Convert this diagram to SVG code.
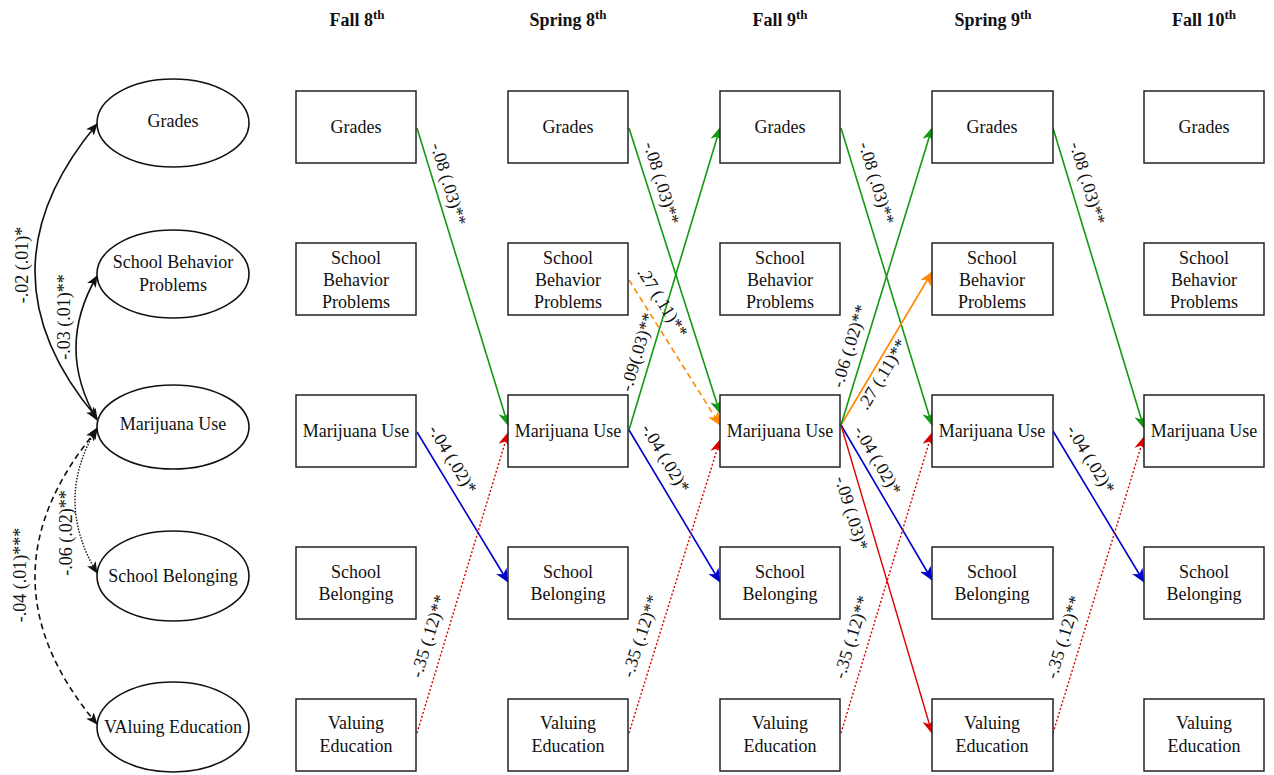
<svg xmlns="http://www.w3.org/2000/svg" width="1274" height="775" viewBox="0 0 1274 775" font-family="Liberation Serif, Times New Roman, serif">
<style>
text{font-family:"Liberation Serif","Times New Roman",serif;fill:#111;}
.t{font-size:18px;text-anchor:middle;}
.h{font-size:18px;font-weight:bold;text-anchor:middle;}
.l{font-size:18px;text-anchor:middle;}
.box{fill:#fff;stroke:#222;stroke-width:1.5;}
.ell{fill:#fff;stroke:#111;stroke-width:1.6;}
.g{stroke:#119911;stroke-width:1.6;fill:none;marker-end:url(#mg);}
.b{stroke:#0000cc;stroke-width:1.6;fill:none;marker-end:url(#mb);}
.r{stroke:#dd0000;stroke-width:1.4;fill:none;marker-end:url(#mr);}
.rd{stroke:#dd0000;stroke-width:1.4;fill:none;stroke-dasharray:2,2;marker-end:url(#mr);}
.o{stroke:#ff8800;stroke-width:1.6;fill:none;marker-end:url(#mo);}
.od{stroke:#ff8800;stroke-width:1.6;fill:none;stroke-dasharray:6,4;marker-end:url(#mo);}
.k{stroke:#111;stroke-width:1.6;fill:none;marker-start:url(#mk);marker-end:url(#mk);}
.kdot{stroke:#111;stroke-width:1.4;fill:none;stroke-dasharray:1.5,1.5;marker-start:url(#mk);marker-end:url(#mk);}
.kdash{stroke:#111;stroke-width:1.6;fill:none;stroke-dasharray:6,4;marker-start:url(#mk);marker-end:url(#mk);}
</style>
<defs>
<marker id="mg" markerUnits="userSpaceOnUse" markerWidth="14" markerHeight="12" refX="13" refY="6" orient="auto"><path d="M0,0 L14,6 L0,12 L4,6 z" fill="#119911"/></marker>
<marker id="mb" markerUnits="userSpaceOnUse" markerWidth="14" markerHeight="12" refX="13" refY="6" orient="auto"><path d="M0,0 L14,6 L0,12 L4,6 z" fill="#0000cc"/></marker>
<marker id="mr" markerUnits="userSpaceOnUse" markerWidth="14" markerHeight="12" refX="13" refY="6" orient="auto"><path d="M0,0 L14,6 L0,12 L4,6 z" fill="#dd0000"/></marker>
<marker id="mo" markerUnits="userSpaceOnUse" markerWidth="14" markerHeight="12" refX="13" refY="6" orient="auto"><path d="M0,0 L14,6 L0,12 L4,6 z" fill="#ff8800"/></marker>
<marker id="mk" markerUnits="userSpaceOnUse" markerWidth="12" markerHeight="10" refX="11" refY="5" orient="auto-start-reverse"><path d="M0,0 L12,5 L0,10 L3,5 z" fill="#111"/></marker>
</defs>

<g id="headers">
<text class="h" x="357" y="26">Fall 8<tspan dy="-7" font-size="13">th</tspan></text>
<text class="h" x="568" y="26">Spring 8<tspan dy="-7" font-size="13">th</tspan></text>
<text class="h" x="780" y="26">Fall 9<tspan dy="-7" font-size="13">th</tspan></text>
<text class="h" x="993" y="26">Spring 9<tspan dy="-7" font-size="13">th</tspan></text>
<text class="h" x="1204" y="26">Fall 10<tspan dy="-7" font-size="13">th</tspan></text>
</g>

<g id="connectors">
<path class="k" d="M97,418 Q-27,272 97,124"/>
<path class="k" d="M97,420 Q55,348 97,276"/>
<path class="kdot" d="M97,428 Q53,500 97,573"/>
<path class="kdash" d="M97,430 Q-27,577 97,724"/>
<line class="g" x1="417" y1="128" x2="508" y2="425"/>
<line class="g" x1="629" y1="128" x2="720" y2="413"/>
<line class="g" x1="841" y1="128" x2="932" y2="425"/>
<line class="g" x1="1053" y1="128" x2="1144" y2="428"/>
<line class="b" x1="417" y1="432" x2="508" y2="582"/>
<line class="b" x1="629" y1="430" x2="720" y2="582"/>
<line class="b" x1="841" y1="425" x2="932" y2="580"/>
<line class="b" x1="1053" y1="431" x2="1144" y2="582"/>
<line class="rd" x1="417" y1="733" x2="508" y2="433"/>
<line class="rd" x1="629" y1="733" x2="720" y2="440"/>
<line class="rd" x1="841" y1="733" x2="932" y2="433"/>
<line class="rd" x1="1053" y1="733" x2="1144" y2="437"/>
<line class="od" x1="629" y1="280" x2="720" y2="425"/>
<line class="o" x1="841" y1="425" x2="932" y2="272"/>
<line class="g" x1="629" y1="430" x2="720" y2="128"/>
<line class="g" x1="841" y1="425" x2="932" y2="128"/>
<line class="r" x1="841" y1="425" x2="932" y2="733"/>
</g>

<g id="labels">
<text class="l" transform="translate(22,265) rotate(-90)" dy="0.35em">-.02 (.01)*</text>
<text class="l" transform="translate(64,317) rotate(-90)" dy="0.35em">-.03 (.01)**</text>
<text class="l" transform="translate(66,533) rotate(-90)" dy="0.35em">-.06 (.02)**</text>
<text class="l" transform="translate(20,575) rotate(-90)" dy="0.35em">-.04 (.01)***</text>

<text class="l" transform="translate(449,184) rotate(73)" dy="0.35em">-.08 (.03)**</text>
<text class="l" transform="translate(662,183) rotate(73)" dy="0.35em">-.08 (.03)**</text>
<text class="l" transform="translate(877,183) rotate(73)" dy="0.35em">-.08 (.03)**</text>
<text class="l" transform="translate(1088,183) rotate(73)" dy="0.35em">-.08 (.03)**</text>

<text class="l" transform="translate(453,459) rotate(59)" dy="0.35em">-.04 (.02)*</text>
<text class="l" transform="translate(666,458) rotate(59)" dy="0.35em">-.04 (.02)*</text>
<text class="l" transform="translate(878,460) rotate(60)" dy="0.35em">-.04 (.02)*</text>
<text class="l" transform="translate(1091,459) rotate(59)" dy="0.35em">-.04 (.02)*</text>

<text class="l" transform="translate(428,636) rotate(-73)" dy="0.35em">-.35 (.12)**</text>
<text class="l" transform="translate(640,636) rotate(-72)" dy="0.35em">-.35 (.12)**</text>
<text class="l" transform="translate(851,637) rotate(-73)" dy="0.35em">-.35 (.12)**</text>
<text class="l" transform="translate(1063,637) rotate(-73)" dy="0.35em">-.35 (.12)**</text>

<text class="l" transform="translate(663,302) rotate(58)" dy="0.35em">.27 (.11)**</text>
<text class="l" transform="translate(637,352) rotate(-73)" dy="0.35em">-.09(.03)**</text>
<text class="l" transform="translate(849,346) rotate(-73)" dy="0.35em">-.06 (.02)**</text>
<text class="l" transform="translate(882,374) rotate(-59)" dy="0.35em">.27 (.11)**</text>
<text class="l" transform="translate(852,513) rotate(73)" dy="0.35em">-.09 (.03)*</text>
</g>

<g id="e-grades"><ellipse class="ell" cx="173" cy="123" rx="76" ry="44"/><text class="t" x="173" y="127">Grades</text></g>
<g id="e-sbp"><ellipse class="ell" cx="173" cy="274" rx="76" ry="44"/><text class="t" x="173" y="268">School Behavior</text><text class="t" x="173" y="291">Problems</text></g>
<g id="e-mu"><ellipse class="ell" cx="173" cy="427" rx="76" ry="42"/><text class="t" x="173" y="430">Marijuana Use</text></g>
<g id="e-sb"><ellipse class="ell" cx="173" cy="576" rx="76" ry="45"/><text class="t" x="173" y="582">School Belonging</text></g>
<g id="e-ve"><ellipse class="ell" cx="173" cy="727" rx="76" ry="45"/><text class="t" x="173" y="733">VAluing Education</text></g>

<g id="c1-grades"><rect class="box" x="296" y="91" width="120" height="72"/><text class="t" x="356" y="133">Grades</text></g>
<g id="c1-sbp"><rect class="box" x="296" y="243" width="120" height="72"/><text class="t" x="356" y="264">School</text><text class="t" x="356" y="286">Behavior</text><text class="t" x="356" y="308">Problems</text></g>
<g id="c1-mu"><rect class="box" x="296" y="395" width="120" height="72"/><text class="t" x="356" y="437">Marijuana Use</text></g>
<g id="c1-sb"><rect class="box" x="296" y="547" width="120" height="72"/><text class="t" x="356" y="578">School</text><text class="t" x="356" y="600">Belonging</text></g>
<g id="c1-ve"><rect class="box" x="296" y="699" width="120" height="72"/><text class="t" x="356" y="729">Valuing</text><text class="t" x="356" y="752">Education</text></g>

<g id="c2-grades"><rect class="box" x="508" y="91" width="120" height="72"/><text class="t" x="568" y="133">Grades</text></g>
<g id="c2-sbp"><rect class="box" x="508" y="243" width="120" height="72"/><text class="t" x="568" y="264">School</text><text class="t" x="568" y="286">Behavior</text><text class="t" x="568" y="308">Problems</text></g>
<g id="c2-mu"><rect class="box" x="508" y="395" width="120" height="72"/><text class="t" x="568" y="437">Marijuana Use</text></g>
<g id="c2-sb"><rect class="box" x="508" y="547" width="120" height="72"/><text class="t" x="568" y="578">School</text><text class="t" x="568" y="600">Belonging</text></g>
<g id="c2-ve"><rect class="box" x="508" y="699" width="120" height="72"/><text class="t" x="568" y="729">Valuing</text><text class="t" x="568" y="752">Education</text></g>

<g id="c3-grades"><rect class="box" x="720" y="91" width="120" height="72"/><text class="t" x="780" y="133">Grades</text></g>
<g id="c3-sbp"><rect class="box" x="720" y="243" width="120" height="72"/><text class="t" x="780" y="264">School</text><text class="t" x="780" y="286">Behavior</text><text class="t" x="780" y="308">Problems</text></g>
<g id="c3-mu"><rect class="box" x="720" y="395" width="120" height="72"/><text class="t" x="780" y="437">Marijuana Use</text></g>
<g id="c3-sb"><rect class="box" x="720" y="547" width="120" height="72"/><text class="t" x="780" y="578">School</text><text class="t" x="780" y="600">Belonging</text></g>
<g id="c3-ve"><rect class="box" x="720" y="699" width="120" height="72"/><text class="t" x="780" y="729">Valuing</text><text class="t" x="780" y="752">Education</text></g>

<g id="c4-grades"><rect class="box" x="932" y="91" width="121" height="72"/><text class="t" x="992" y="133">Grades</text></g>
<g id="c4-sbp"><rect class="box" x="932" y="243" width="121" height="72"/><text class="t" x="992" y="264">School</text><text class="t" x="992" y="286">Behavior</text><text class="t" x="992" y="308">Problems</text></g>
<g id="c4-mu"><rect class="box" x="932" y="395" width="121" height="72"/><text class="t" x="992" y="437">Marijuana Use</text></g>
<g id="c4-sb"><rect class="box" x="932" y="547" width="121" height="72"/><text class="t" x="992" y="578">School</text><text class="t" x="992" y="600">Belonging</text></g>
<g id="c4-ve"><rect class="box" x="932" y="699" width="121" height="72"/><text class="t" x="992" y="729">Valuing</text><text class="t" x="992" y="752">Education</text></g>

<g id="c5-grades"><rect class="box" x="1144" y="91" width="120" height="72"/><text class="t" x="1204" y="133">Grades</text></g>
<g id="c5-sbp"><rect class="box" x="1144" y="243" width="120" height="72"/><text class="t" x="1204" y="264">School</text><text class="t" x="1204" y="286">Behavior</text><text class="t" x="1204" y="308">Problems</text></g>
<g id="c5-mu"><rect class="box" x="1144" y="395" width="120" height="72"/><text class="t" x="1204" y="437">Marijuana Use</text></g>
<g id="c5-sb"><rect class="box" x="1144" y="547" width="120" height="72"/><text class="t" x="1204" y="578">School</text><text class="t" x="1204" y="600">Belonging</text></g>
<g id="c5-ve"><rect class="box" x="1144" y="699" width="120" height="72"/><text class="t" x="1204" y="729">Valuing</text><text class="t" x="1204" y="752">Education</text></g>
</svg>
